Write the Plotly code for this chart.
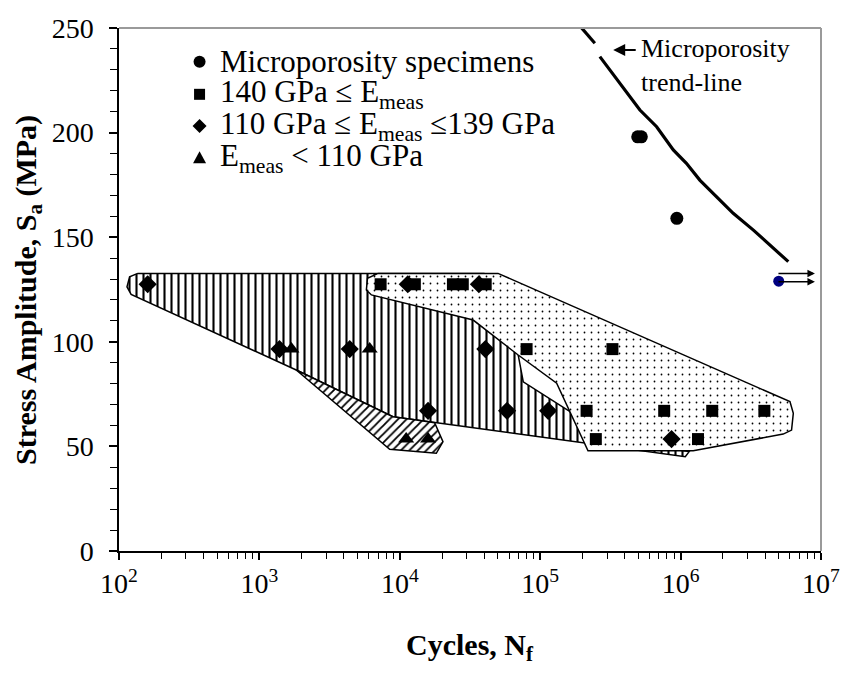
import plotly.graph_objects as go

# ---------------- data ----------------
# Microporosity specimens (circles)
micro_N = [4.95e5, 5.25e5, 9.4e5]
micro_S = [198, 198, 159]
# run-out specimen (blue circle)
runout_N = [5.0e6]
runout_S = [129]
# 140 GPa <= E_meas (squares)
sq_N = [7.3e3, 1.28e4, 2.39e4, 2.81e4, 4.09e4, 8.0e4, 3.27e5, 2.14e5, 7.64e5, 1.68e6, 3.95e6, 2.49e5, 1.33e6]
sq_S = [127.5, 127.5, 127.5, 127.5, 127.5, 96.5, 96.5, 67, 67, 67, 67, 53.5, 53.5]
# 110 GPa <= E_meas <= 139 GPa (diamonds)
dia_N = [160, 1.14e4, 3.66e4, 1.39e3, 4.4e3, 4.07e4, 1.59e4, 5.81e4, 1.14e5, 8.62e5]
dia_S = [127.5, 127.5, 127.5, 96.5, 96.5, 96.5, 67, 67, 67, 53.5]
# E_meas < 110 GPa (triangles)
tri_N = [1.69e3, 6.1e3, 1.11e4, 1.59e4]
tri_S = [96.5, 96.5, 53.5, 53.5]

# microporosity trend-line (None = gap behind label arrow)
trend_N = [1.86e5, 2.45e5, None, 2.66e5, 5.13e5, 6.75e5, 8.87e5, 1.10e6, 1.37e6, 2.37e6, 3.30e6, 5.85e6]
trend_S = [252, 242.7, None, 236.3, 210.8, 202.8, 191.7, 185.3, 177.3, 161.4, 153.4, 138.3]

# scatter-band regions
vert_N = [136, 3.98e4, 6.97e4, 7.57e4, 1.63e5, 6.31e5, 1.15e6, 1.08e6, 1.24e4, 8.93e3, 1.83e3, 122, 114, 119, 136]
vert_S = [132.7, 132.7, 93.7, 80.9, 66.6, 50.0, 47.5, 45.1, 62.9, 64.2, 86.5, 122.7, 126.3, 131.1, 132.7]
diag_N = [1.83e3, 8.93e3, 1.24e4, 1.77e4, 2.03e4, 1.82e4, 8.47e3, 1.83e3]
diag_S = [86.5, 64.2, 62.9, 61.3, 52.3, 46.7, 48.6, 86.5]
dot_N = [7.0e3, 5.01e4, 6.01e6, 6.35e6, 6.17e6, 5.38e6, 1.23e6, 2.19e5, 1.31e5, 6.97e4, 3.33e4, 6.28e3, 5.78e3, 5.89e3, 7.0e3]
dot_S = [132.7, 132.7, 71.4, 65.8, 57.8, 55.9, 47.9, 47.9, 80.2, 93.7, 110.4, 122.4, 124.8, 130.4, 132.7]

x_tickvals = [1e2, 1e3, 1e4, 1e5, 1e6, 1e7]
x_ticktext = ["10<sup>2</sup>", "10<sup>3</sup>", "10<sup>4</sup>", "10<sup>5</sup>", "10<sup>6</sup>", "10<sup>7</sup>"]
y_tickvals = [0, 50, 100, 150, 200, 250]

legend_labels = [
    "Microporosity specimens",
    "140 GPa ≤ E<sub>meas</sub>",
    "110 GPa ≤ E<sub>meas</sub> ≤139 GPa",
    "E<sub>meas</sub> < 110 GPa",
]

FONT = "Liberation Serif"

fig = go.Figure()

fig.add_trace(go.Scatter(x=vert_N, y=vert_S, mode="lines", fill="toself",
                         line=dict(color="black", width=1.5),
                         fillcolor="white",
                         fillpattern=dict(shape="|", size=7, solidity=0.3, fgcolor="black", bgcolor="white", fillmode="replace"),
                         showlegend=False, hoverinfo="skip"))
fig.add_trace(go.Scatter(x=diag_N, y=diag_S, mode="lines", fill="toself",
                         line=dict(color="black", width=1.5),
                         fillcolor="white",
                         fillpattern=dict(shape="/", size=6, solidity=0.3, fgcolor="black", bgcolor="white", fillmode="replace"),
                         showlegend=False, hoverinfo="skip"))
fig.add_trace(go.Scatter(x=dot_N, y=dot_S, mode="lines", fill="toself",
                         line=dict(color="black", width=1.5),
                         fillcolor="white",
                         fillpattern=dict(shape=".", size=7, solidity=0.05, fgcolor="black", bgcolor="white", fillmode="replace"),
                         showlegend=False, hoverinfo="skip"))

fig.add_trace(go.Scatter(x=trend_N, y=trend_S, mode="lines", line=dict(color="black", width=3.2),
                         connectgaps=False, showlegend=False))

mk = dict(color="black", size=12, line=dict(width=0))
fig.add_trace(go.Scatter(x=micro_N, y=micro_S, mode="markers", marker=dict(mk, symbol="circle", size=13), showlegend=False))
fig.add_trace(go.Scatter(x=sq_N, y=sq_S, mode="markers", marker=dict(mk, symbol="square", size=12), showlegend=False))
fig.add_trace(go.Scatter(x=dia_N, y=dia_S, mode="markers", marker=dict(mk, symbol="diamond", size=14), showlegend=False))
fig.add_trace(go.Scatter(x=tri_N, y=tri_S, mode="markers", marker=dict(mk, symbol="triangle-up", size=14), showlegend=False))
fig.add_trace(go.Scatter(x=runout_N, y=runout_S, mode="markers", marker=dict(color="#000080", size=11, symbol="circle"), showlegend=False))

annotations = []
# legend text rows
legend_y = [0.9356, 0.8732, 0.8126, 0.752]
for lab, yy in zip(legend_labels, legend_y):
    annotations.append(dict(xref="paper", yref="paper", x=(218 - 119.5) / 701.5, y=yy, xanchor="left", yanchor="middle",
                            text=lab, showarrow=False, font=dict(family=FONT, size=31, color="black")))

# trend-line label and arrow
annotations.append(dict(xref="x", yref="y", x=5.703, y=232, xanchor="left", yanchor="middle",
                        text="Microporosity<br>trend-line", align="left", showarrow=False,
                        font=dict(family=FONT, size=26, color="black")))
annotations.append(dict(xref="x", yref="y", x=5.52, y=239.5, ax=24, ay=0, text="", showarrow=True,
                        arrowhead=2, arrowsize=1.2, arrowwidth=2, arrowcolor="black"))
# run-out arrows
for yy in [132.7, 128.7]:
    annotations.append(dict(xref="x", yref="y", x=6.957, y=yy, ax=-38, ay=0, text="", showarrow=True,
                            arrowhead=2, arrowsize=1, arrowwidth=1.5, arrowcolor="black"))

# axis titles
annotations.append(dict(xref="paper", yref="paper", x=0.5, y=(551 - 647) / 523, xanchor="center", yanchor="middle",
                        text="<b>Cycles, N<sub>f</sub></b>", showarrow=False, font=dict(family=FONT, size=30, color="black")))
annotations.append(dict(xref="paper", yref="paper", x=(28 - 119.5) / 701.5, y=0.5, xanchor="center", yanchor="middle",
                        text="<b>Stress Amplitude, S<sub>a</sub> (MPa)</b>", textangle=-90, showarrow=False,
                        font=dict(family=FONT, size=30, color="black")))

# legend symbols (pixel-sized shapes)
def lg_shape(kind, yy):
    base = dict(xref="paper", yref="paper", xsizemode="pixel", ysizemode="pixel",
                xanchor=(200 - 119.5) / 701.5, yanchor=yy, fillcolor="black", line=dict(width=0))
    if kind == "circle":
        base.update(type="circle", x0=-6, x1=6, y0=-6, y1=6)
    elif kind == "square":
        base.update(type="rect", x0=-5.5, x1=5.5, y0=-5.5, y1=5.5)
    elif kind == "diamond":
        base.update(type="path", path="M 0,-7 L 7,0 L 0,7 L -7,0 Z")
    else:
        base.update(type="path", path="M -6.5,-5.5 L 6.5,-5.5 L 0,6.5 Z")
    return base

shapes = [lg_shape(k, yy) for k, yy in zip(["circle", "square", "diamond", "triangle"], legend_y)]
# grey top and right frame
shapes.append(dict(type="line", xref="paper", yref="paper", x0=0, x1=1, y0=1, y1=1, line=dict(color="#9a9a9a", width=2)))
shapes.append(dict(type="line", xref="paper", yref="paper", x0=1, x1=1, y0=0, y1=1, line=dict(color="#9a9a9a", width=2)))

fig.update_layout(
    width=857, height=677,
    margin=dict(l=119, r=36, t=28, b=126),
    plot_bgcolor="white", paper_bgcolor="white",
    font=dict(family=FONT, size=28, color="black"),
    showlegend=False,
    annotations=annotations,
    shapes=shapes,
    xaxis=dict(type="log", range=[2, 7], tickmode="array", tickvals=x_tickvals, ticktext=x_ticktext,
               ticks="outside", ticklen=7, tickwidth=1.5, tickcolor="black",
               showline=True, linecolor="black", linewidth=1.5, showgrid=False, zeroline=False,
               tickfont=dict(family=FONT, size=28),
               minor=dict(tickmode="array", tickvals=[k * 10 ** d for d in range(2, 7) for k in range(2, 10)],
                          ticks="outside", ticklen=6, tickwidth=1.2, tickcolor="black", showgrid=False)),
    yaxis=dict(range=[0, 250], tickmode="array", tickvals=y_tickvals,
               ticks="outside", ticklen=8, tickwidth=1.5, tickcolor="black",
               showline=True, linecolor="black", linewidth=1.5, showgrid=False, zeroline=False,
               tickfont=dict(family=FONT, size=28), ticklabelstandoff=10,
               minor=dict(dtick=10, ticks="outside", ticklen=7, tickwidth=1.2, tickcolor="black", showgrid=False)),
)

fig.write_html("out.html")
